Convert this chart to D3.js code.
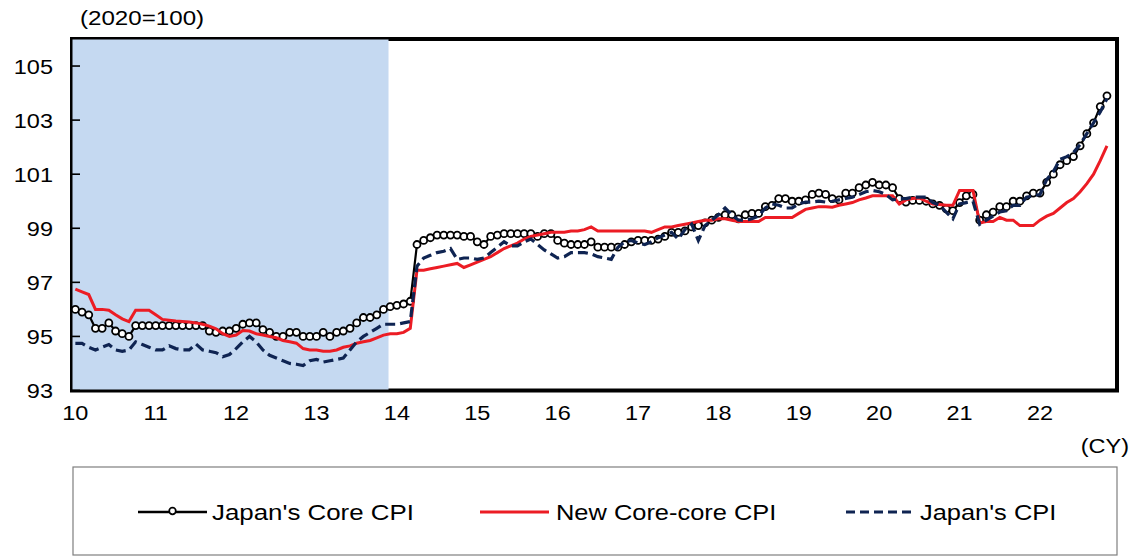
<!DOCTYPE html>
<html>
<head>
<meta charset="utf-8">
<script src="https://cdn.jsdelivr.net/npm/d3@7"></script>
<style>
  html, body { margin: 0; padding: 0; background: #fff; }
  svg { display: block; font-family: "Liberation Sans", Arial, sans-serif; }
</style>
</head>
<body>
<svg id="chart" width="1137" height="556"></svg>
<script>
// ---- data (monthly, Jan 2010 .. Nov 2022, 2020=100) ----
const startYear = 2010;
const yearLabels = ["10","11","12","13","14","15","16","17","18","19","20","21","22"];
const yTicks = [93, 95, 97, 99, 101, 103, 105];
const seriesNames = ["Japan's Core CPI", "New Core-core CPI", "Japan's CPI"];
const shadedEndMonth = 47; // Dec 2013

const coreCPI = [
  96.0, 95.9, 95.8, 95.3, 95.3, 95.5, 95.2, 95.1, 95.0, 95.4, 95.4, 95.4,
  95.4, 95.4, 95.4, 95.4, 95.4, 95.4, 95.4, 95.4, 95.2, 95.15, 95.2, 95.2,
  95.3, 95.45, 95.5, 95.5, 95.25, 95.15, 95.0, 95.0, 95.15, 95.15, 95.0, 95.0,
  95.0, 95.15, 95.0, 95.15, 95.2, 95.3, 95.5, 95.7, 95.7, 95.8, 96.0, 96.1,
  96.15, 96.2, 96.3, 98.4, 98.55, 98.65, 98.75, 98.75, 98.75, 98.75, 98.7, 98.7,
  98.5, 98.4, 98.7, 98.75, 98.8, 98.8, 98.8, 98.8, 98.8, 98.7, 98.8, 98.8,
  98.55, 98.45, 98.4, 98.4, 98.4, 98.5, 98.3, 98.3, 98.3, 98.3, 98.4, 98.5,
  98.55, 98.55, 98.55, 98.6, 98.7, 98.85, 98.85, 98.9, 99.05, 99.1, 99.2, 99.3,
  99.4, 99.5, 99.5, 99.35, 99.5, 99.55, 99.55, 99.8, 99.85, 100.1, 100.1, 100.0,
  100.0, 100.05, 100.25, 100.3, 100.25, 100.1, 100.05, 100.3, 100.3, 100.5, 100.6, 100.7,
  100.6, 100.6, 100.5, 100.1, 99.97, 100.03, 100.03, 100.0, 99.9, 99.85, 99.72, 99.65,
  99.95, 100.2, 100.25, 99.3, 99.5, 99.6, 99.8, 99.8, 100.0, 100.0, 100.2, 100.3,
  100.3, 100.7, 101.0, 101.35, 101.5, 101.65, 102.05, 102.5, 102.9, 103.5, 103.9
];

const newCoreCoreCPI = [
  96.75, 96.65, 96.55, 96.0, 96.0, 95.97, 95.8, 95.65, 95.55, 95.97, 95.97, 95.97,
  95.8, 95.63, 95.6, 95.57, 95.55, 95.53, 95.5, 95.45, 95.38, 95.28, 95.1, 95.0,
  95.05, 95.22, 95.2, 95.1, 95.05, 95.0, 94.95, 94.85, 94.8, 94.75, 94.55, 94.5,
  94.5, 94.45, 94.45, 94.5, 94.6, 94.65, 94.75, 94.8, 94.85, 94.95, 95.05, 95.1,
  95.1, 95.15, 95.3, 97.45, 97.45, 97.5, 97.55, 97.6, 97.65, 97.7, 97.55, 97.65,
  97.75, 97.85, 97.95, 98.1, 98.25, 98.35, 98.45, 98.6, 98.7, 98.75, 98.8, 98.85,
  98.85, 98.85, 98.9, 98.9, 98.95, 99.05, 98.9, 98.9, 98.9, 98.9, 98.9, 98.9,
  98.9, 98.9, 98.85, 98.95, 99.05, 99.05, 99.1, 99.15, 99.2, 99.25, 99.3, 99.3,
  99.35, 99.35, 99.3, 99.25, 99.25, 99.25, 99.25, 99.4, 99.4, 99.4, 99.4, 99.4,
  99.55, 99.7, 99.75, 99.8, 99.8, 99.78, 99.85, 99.9, 99.95, 100.05, 100.12, 100.2,
  100.2, 100.2, 100.2, 99.9, 100.05, 100.1, 100.12, 100.0, 99.9, 99.88, 99.85, 99.85,
  100.4, 100.4, 100.4, 99.2, 99.25, 99.25, 99.4, 99.3, 99.3, 99.1, 99.1, 99.1,
  99.3, 99.45, 99.55, 99.75, 99.95, 100.1, 100.35, 100.65, 101.0, 101.5, 102.05
];

const headlineCPI = [
  94.74, 94.74, 94.6, 94.5, 94.6, 94.7, 94.5, 94.45, 94.5, 94.8, 94.7, 94.6,
  94.5, 94.5, 94.65, 94.55, 94.5, 94.5, 94.72, 94.5, 94.45, 94.4, 94.25, 94.33,
  94.55, 94.8, 95.0, 94.8, 94.5, 94.3, 94.2, 94.1, 94.0, 93.97, 93.92, 94.1,
  94.15, 94.05, 94.1, 94.15, 94.2, 94.5, 94.8, 95.0, 95.15, 95.3, 95.45, 95.45,
  95.45, 95.5, 95.55, 97.6, 97.9, 98.0, 98.1, 98.15, 98.25, 97.85, 97.9, 97.9,
  97.85, 97.9, 98.1, 98.3, 98.5, 98.35, 98.35, 98.5, 98.6, 98.4, 98.2, 98.05,
  97.9, 97.95, 98.1, 98.1, 98.1, 98.05, 97.95, 97.9, 97.85, 98.3, 98.5, 98.55,
  98.45, 98.4, 98.5, 98.65, 98.75, 98.85, 98.6, 98.95, 99.15, 98.55, 99.1, 99.3,
  99.5, 99.75, 99.5, 99.3, 99.3, 99.35, 99.45, 99.75, 99.9, 99.85, 99.75, 99.75,
  99.9, 99.97, 99.97, 100.0, 99.97, 100.0, 100.05, 100.1, 100.15, 100.25, 100.35, 100.4,
  100.35, 100.25, 100.05, 100.1, 100.1, 100.15, 100.15, 100.15, 99.95, 99.85, 99.6, 99.35,
  99.9, 99.95, 100.0, 99.15, 99.3, 99.45, 99.6, 99.65, 99.85, 99.85, 100.15, 100.2,
  100.25, 100.8, 101.1, 101.55, 101.65, 101.8, 102.1, 102.5, 102.9, 103.3, 103.8
];

// ---- layout ----
const svg = d3.select("#chart");
const L = 72, R = 1117, T = 39, B = 390.5;
const SX = 1.12; // horizontal stretch of the original text
const totalSlots = yearLabels.length * 12;

const x = d3.scaleBand().domain(d3.range(totalSlots)).range([L, R]).paddingInner(0).paddingOuter(0);
const xc = i => x(i) + x.bandwidth() / 2;
const y = d3.scaleLinear().domain([93, 106]).range([B, T]);

function stext(g, tx, ty, str, anchor, size, sx) {
  return g.append("text")
    .attr("transform", `translate(${tx},${ty}) scale(${sx || SX},1)`)
    .attr("text-anchor", anchor)
    .attr("font-size", size)
    .attr("fill", "#000")
    .text(str);
}

// frame
svg.append("rect").attr("x", L).attr("y", T).attr("width", R - L).attr("height", B - T)
  .attr("fill", "#fff").attr("stroke", "#000").attr("stroke-width", 4);

// shaded period
svg.append("rect")
  .attr("x", L + 0.5)
  .attr("y", T + 0.5)
  .attr("width", x(shadedEndMonth) + x.bandwidth() * 0.25 - (L + 0.5))
  .attr("height", B - T - 1.5)
  .attr("fill", "#c5d9f1");

// y axis ticks (inward) & labels
const yAxisG = svg.append("g");
yTicks.forEach(v => {
  yAxisG.append("line").attr("x1", L).attr("x2", L + 8).attr("y1", y(v)).attr("y2", y(v))
    .attr("stroke", "#000").attr("stroke-width", 1.6);
  stext(yAxisG, 53, y(v) + 7.5, String(v), "end", 21);
});

// x labels
const xAxisG = svg.append("g");
yearLabels.forEach((lab, k) => {
  stext(xAxisG, xc(k * 12), 420, lab, "middle", 21);
});

stext(svg, 80, 25, "(2020=100)", "start", 21, 1.15);
stext(svg, 1129, 453, "(CY)", "end", 21);

// lines
const line = d3.line().x((d, i) => xc(i)).y(d => y(d));

svg.append("path").datum(coreCPI).attr("d", line)
  .attr("fill", "none").attr("stroke", "#000").attr("stroke-width", 2.2);
svg.append("g").selectAll("circle").data(coreCPI).join("circle")
  .attr("cx", (d, i) => xc(i)).attr("cy", d => y(d)).attr("r", 3.5)
  .attr("fill", "#fff").attr("stroke", "#000").attr("stroke-width", 1.8);

svg.append("path").datum(newCoreCoreCPI).attr("d", line)
  .attr("fill", "none").attr("stroke", "#ec1c24").attr("stroke-width", 3);

svg.append("path").datum(headlineCPI).attr("d", line)
  .attr("fill", "none").attr("stroke", "#0f2452").attr("stroke-width", 3.2)
  .attr("stroke-dasharray", "10,5");

// legend
const lg = svg.append("g");
lg.append("rect").attr("x", 73).attr("y", 467).attr("width", 1044).attr("height", 88)
  .attr("fill", "#fff").attr("stroke", "#7f7f7f").attr("stroke-width", 1.2);
const ly = 512;
// entry 1
lg.append("line").attr("x1", 138).attr("x2", 207).attr("y1", ly).attr("y2", ly)
  .attr("stroke", "#000").attr("stroke-width", 2.5);
lg.append("circle").attr("cx", 172.5).attr("cy", ly - 1).attr("r", 3.3)
  .attr("fill", "#fff").attr("stroke", "#000").attr("stroke-width", 1.7);
stext(lg, 212, ly + 8, seriesNames[0], "start", 22.5, 1.15);
// entry 2
lg.append("line").attr("x1", 480).attr("x2", 549).attr("y1", ly).attr("y2", ly)
  .attr("stroke", "#ec1c24").attr("stroke-width", 3);
stext(lg, 556, ly + 8, seriesNames[1], "start", 22.5, 1.13);
// entry 3
lg.append("line").attr("x1", 846).attr("x2", 915).attr("y1", ly).attr("y2", ly)
  .attr("stroke", "#0f2452").attr("stroke-width", 3.2).attr("stroke-dasharray", "9,5");
stext(lg, 920, ly + 8, seriesNames[2], "start", 22.5, 1.13);
</script>
</body>
</html>
